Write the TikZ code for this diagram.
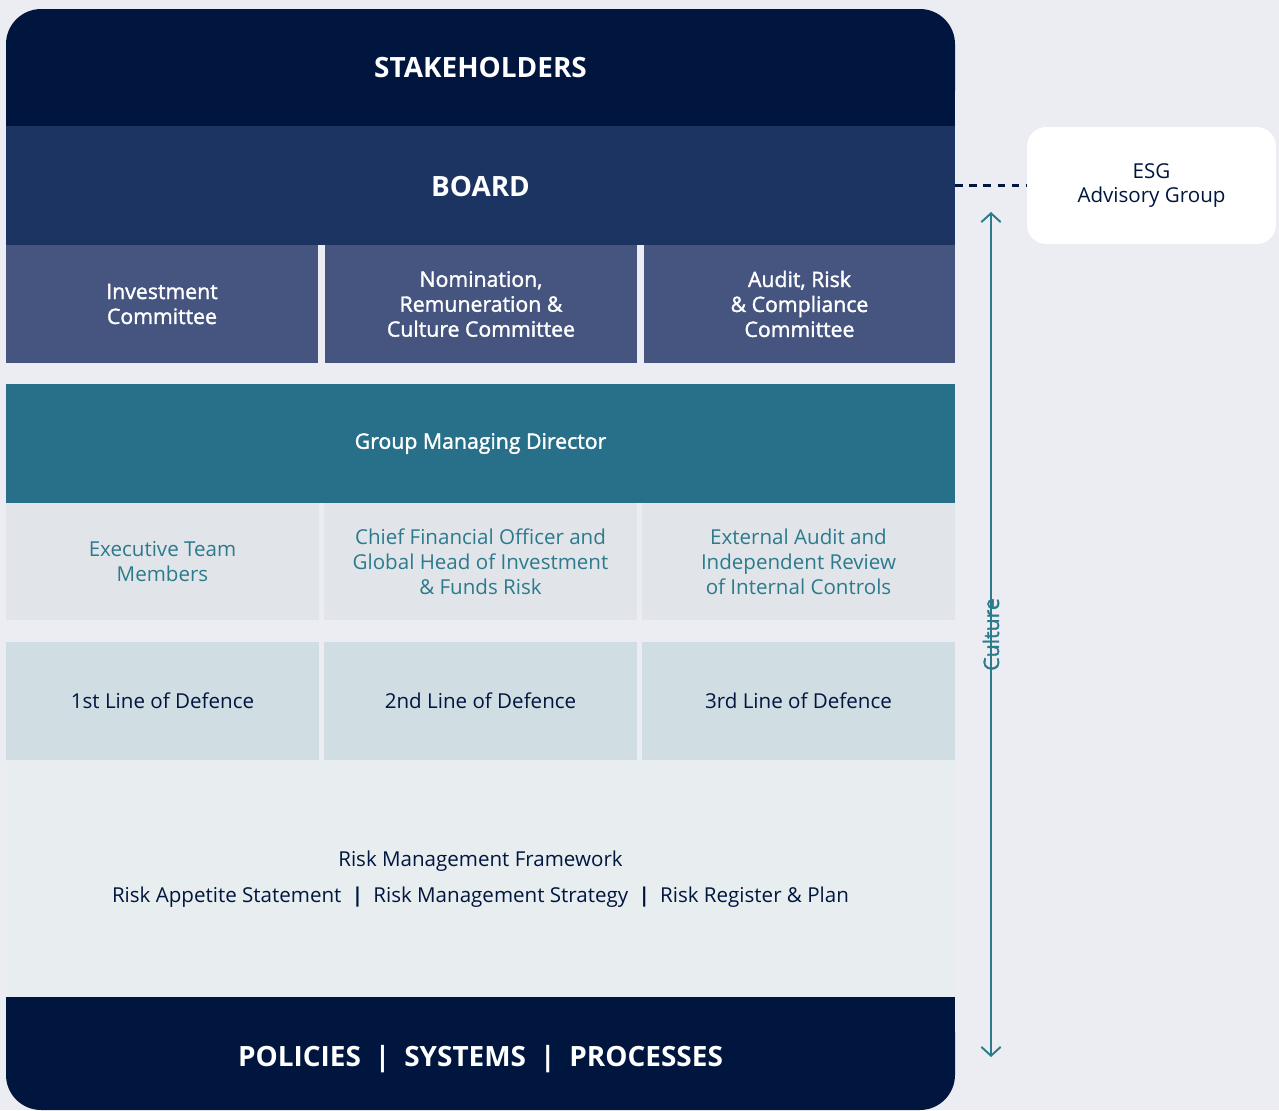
\documentclass[tikz,border=0pt]{standalone}
\usepackage{fontspec}
\setmainfont{Open Sans}
\newfontfamily\medfont[FakeBold=1.6]{Open Sans}
\usepackage{tikz}
\usetikzlibrary{arrows.meta}
\usetikzlibrary{positioning}
\definecolor{navy}{HTML}{00163F}
\definecolor{boardcol}{HTML}{1B3461}
\definecolor{comcol}{HTML}{45557F}
\definecolor{gmdcol}{HTML}{287089}
\definecolor{execcol}{HTML}{E1E5EA}
\definecolor{linecol}{HTML}{D0DDE2}
\definecolor{rmfcol}{HTML}{E8EEEF}
\definecolor{bgcol}{HTML}{ECEDF2}
\definecolor{tealtext}{HTML}{2C7A8C}
\newcommand{\bodyfont}{\fontsize{11.7}{14.2}\selectfont}
\newcommand{\midfont}{\medfont\fontsize{12.1}{14.2}\selectfont}
\newcommand{\headfont}{\bfseries\fontsize{15.9}{19}\selectfont}
\tikzset{>={Straight Barb[length=5pt,width=11pt]}}
\tikzstyle{band} = [rectangle, inner sep=0pt, minimum width=949*0.02cm, minimum height=119*0.02cm]
\tikzstyle{cell} = [rectangle, inner sep=0pt, align=center, minimum width=312*0.02cm, minimum height=118*0.02cm, font=\bodyfont]

\begin{document}
\begin{tikzpicture}[x=0.02cm, y=-0.02cm]
\fill [bgcol] (0, 0) rectangle (1279, 1110);
\useasboundingbox (0, 0) rectangle (1279, 1110);
\fill [navy, rounded corners=20pt] (6, 9) rectangle (955, 126);
\fill [navy] (6, 80) rectangle (955, 126);
\fill [navy, rounded corners=20pt] (6, 997) rectangle (955, 1110);
\fill [navy] (6, 997) rectangle (955, 1040);
\node [band, fill=boardcol] (BOARD) at (480.5, 185.5) {};
\node [text=white, font=\headfont] (ST) at (480.5, 68) {STAKEHOLDERS};
\node [text=white, font=\headfont] (BT) at (480.5, 186) {BOARD};
\node [cell, fill=comcol, text=white, font=\midfont] (IC) at (162, 304) {Investment\\Committee};
\node [cell, fill=comcol, text=white, font=\midfont] (NC) at (481, 304) {Nomination,\\Remuneration \&\\Culture Committee};
\node [cell, fill=comcol, text=white, font=\midfont, minimum width=311*0.02cm] (AC) at (799.5, 304) {Audit, Risk\\\& Compliance\\Committee};
\node [band, fill=gmdcol, text=white, font=\midfont] (GMD) at (480.5, 443.5) {Group Managing Director};
\node [cell, fill=execcol, text=tealtext, minimum width=313*0.02cm, minimum height=117*0.02cm] (EX) at (162.5, 561.5) {Executive Team\\Members};
\node [cell, fill=execcol, text=tealtext, minimum width=313*0.02cm, minimum height=117*0.02cm] (CFO) at (480.5, 561.5) {Chief Financial Officer and\\Global Head of Investment\\\& Funds Risk};
\node [cell, fill=execcol, text=tealtext, minimum width=313*0.02cm, minimum height=117*0.02cm] (EA) at (798.5, 561.5) {External Audit and\\Independent Review\\of Internal Controls};
\node [cell, fill=linecol, text=navy, minimum width=313*0.02cm] (L1) at (162.5, 701) {1st Line of Defence};
\node [cell, fill=linecol, text=navy, minimum width=313*0.02cm] (L2) at (480.5, 701) {2nd Line of Defence};
\node [cell, fill=linecol, text=navy, minimum width=313*0.02cm] (L3) at (798.5, 701) {3rd Line of Defence};
\node [band, fill=rmfcol, minimum height=237*0.02cm] (RMF) at (480.5, 878.5) {};
\node [text=navy, font=\bodyfont] (RMFT) at (480.5, 861) {Risk Management Framework};
\node [text=navy, font=\bodyfont] (RMFL) at (480.5, 897) {Risk Appetite Statement\enspace\textbf{|}\enspace Risk Management Strategy\enspace\textbf{|}\enspace Risk Register \& Plan};
\node [text=white, font=\headfont] (PSP) at (480.5, 1059) {POLICIES\enspace|\enspace SYSTEMS\enspace|\enspace PROCESSES};
\node [rectangle, fill=white, rounded corners=11pt, minimum width=249*0.02cm, minimum height=117*0.02cm, align=center, text=navy, font=\bodyfont] (ESG) at (1151.5, 185.5) {ESG\\Advisory Group};
\draw [draw=navy, line width=1.2pt, dash pattern=on 4.5pt off 3.5pt] (BOARD.east) to (ESG.west);
\coordinate (CT) at (991, 212);
\coordinate (CB) at (991, 1057);
\draw [<->, draw=tealtext, line width=1.1pt] (CT) to node [rotate=90, text=tealtext, font=\midfont] (CUL) {Culture} (CB);
\end{tikzpicture}
\end{document}
